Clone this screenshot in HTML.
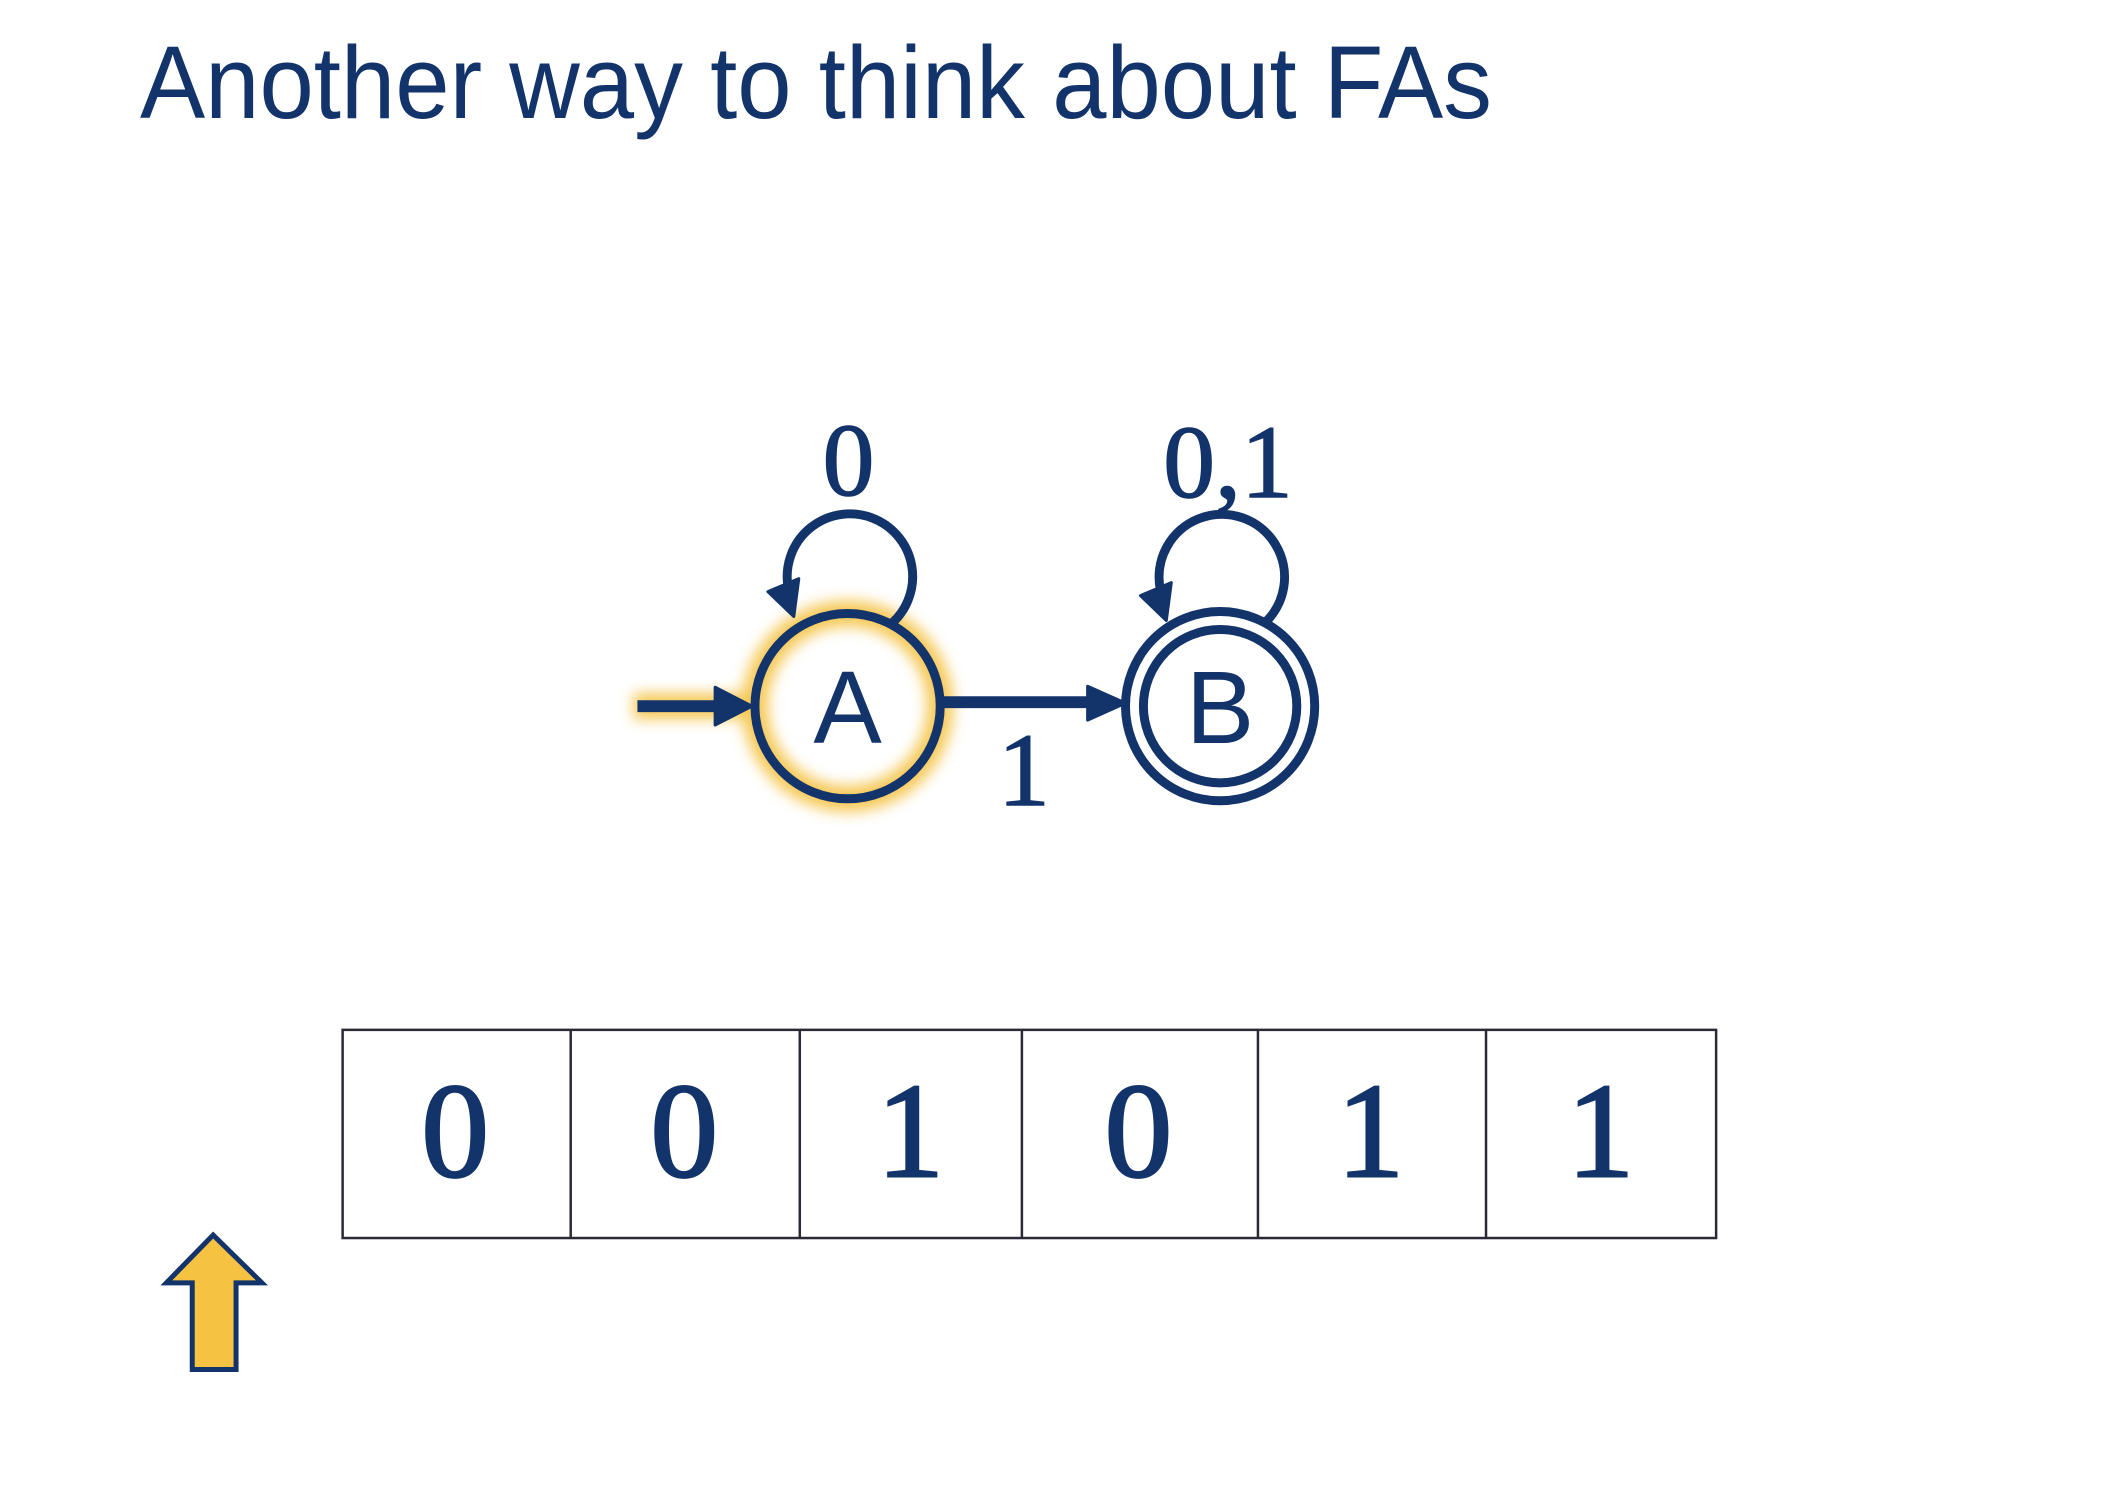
<!DOCTYPE html>
<html><head><style>html,body{margin:0;padding:0;background:#fff;}svg{display:block;}</style></head>
<body>
<svg width="2103" height="1502" viewBox="0 0 2103 1502" xmlns="http://www.w3.org/2000/svg">
<defs>
<filter id="g" x="-50%" y="-50%" width="200%" height="200%"><feGaussianBlur stdDeviation="7"/></filter>
</defs>
<g fill="#13336b">
<text x="140" y="118" font-family="Liberation Sans, sans-serif" font-size="103" textLength="1352" lengthAdjust="spacingAndGlyphs">Another way to think about FAs</text>
</g>
<g transform="translate(0,0) scale(0.996)">
<g filter="url(#g)" stroke="#f5c242" fill="none" opacity="0.9">
<circle cx="851" cy="709" r="93" stroke-width="26"/>
<line x1="636" y1="709" x2="750" y2="709" stroke-width="26"/>
</g>
<g stroke="#13336b" fill="none" stroke-width="9">
<circle cx="851" cy="709" r="93"/>
<circle cx="1225" cy="709" r="95"/>
<circle cx="1225" cy="709" r="77"/>
<path d="M894 627 A63 63 0 1 0 791 588"/>
<path d="M1268 627 A63 63 0 1 0 1165 592"/>
<line x1="640" y1="709" x2="725" y2="709" stroke-width="12"/>
<line x1="945" y1="705" x2="1098" y2="705" stroke-width="12"/>
</g>
<g fill="#13336b" stroke="#13336b" stroke-width="3" stroke-linejoin="round">
<polygon points="771,594 802,581 797,619"/>
<polygon points="1145,598 1176,585 1171,623"/>
<polygon points="718,690 755,709 718,728"/>
<polygon points="1092,689 1130,706 1092,723"/>
</g>
<g fill="#13336b" font-family="Liberation Sans, sans-serif" font-size="103" text-anchor="middle">
<text x="851" y="746">A</text>
<text x="1225" y="746">B</text>
</g>
<g fill="#13336b" stroke="#13336b" stroke-width="1.5" font-family="Liberation Serif, serif" font-size="104" text-anchor="middle">
<text x="852" y="497">0</text>
<text x="1233" y="499">0,1</text>
<text x="1028" y="808">1</text>
</g>
<g stroke="#2a2a35" stroke-width="2.5" fill="none">
<rect x="344" y="1034" width="1379" height="209"/>
<line x1="573" y1="1034" x2="573" y2="1243"/>
<line x1="803" y1="1034" x2="803" y2="1243"/>
<line x1="1026" y1="1034" x2="1026" y2="1243"/>
<line x1="1263" y1="1034" x2="1263" y2="1243"/>
<line x1="1492" y1="1034" x2="1492" y2="1243"/>
</g>
<g fill="#13336b" stroke="#13336b" stroke-width="2.5" font-family="Liberation Serif, serif" font-size="136" text-anchor="middle">
<text x="457" y="1181">0</text>
<text x="687" y="1181">0</text>
<text x="914" y="1181">1</text>
<text x="1143" y="1181">0</text>
<text x="1376" y="1181">1</text>
<text x="1607" y="1181">1</text>
</g>
<polygon points="214,1240 263,1288 237,1288 237,1375 193,1375 193,1288 167,1288" fill="#f5c242" stroke="#13336b" stroke-width="5"/>
</g>
</svg>
</body></html>
